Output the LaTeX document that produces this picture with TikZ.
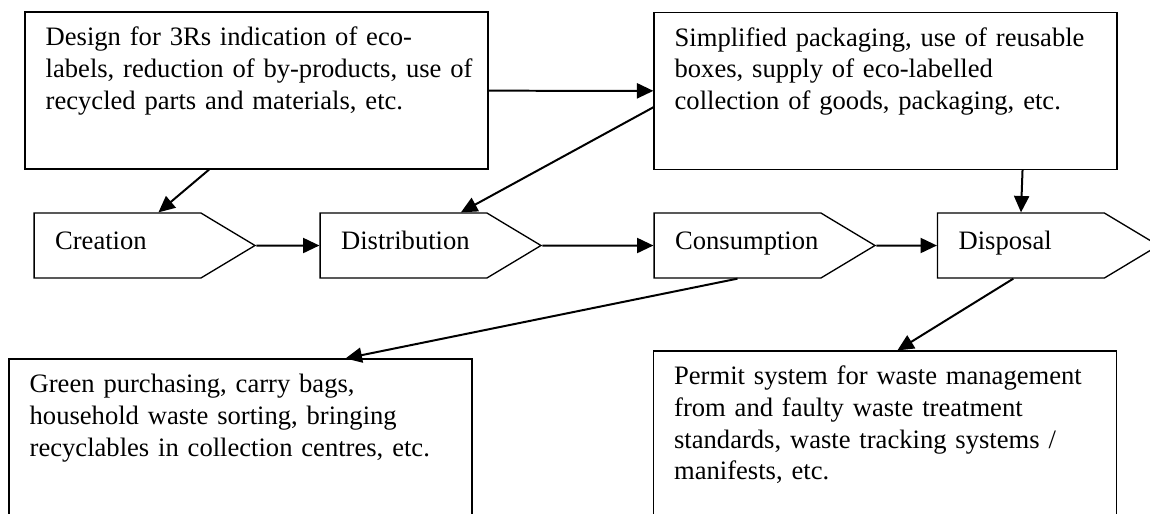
\documentclass[tikz,border=0pt]{standalone}
\usepackage{fontspec}
\setmainfont{Liberation Serif}
\usetikzlibrary{arrows.meta,shapes.symbols}

\begin{document}
\begin{tikzpicture}[-,>={Triangle[length=7.4pt,width=6.8pt]},line width=0.9pt,
                    stage node/.style={signal,signal to=east,signal from=nowhere,signal pointer angle=62,
                      draw,semithick,text width=56.3pt,align=left,inner xsep=9.5pt,inner ysep=8.05pt,
                      text height=8.2pt,text depth=5pt,font=\fontsize{12}{14.3}\selectfont},
                    note node/.style={rectangle,draw,semithick,text width=190.3pt,align=left,
                      inner xsep=9.3pt,inner ysep=7pt,text height=8.2pt,text depth=48.6pt,
                      font=\fontsize{12}{14.3}\selectfont}]
  \useasboundingbox (-1.864,-4.243) rectangle (16.375,3.894);

  %stages%
  \node[stage node] (cre) {Creation};
  \node[stage node] (dis) [right of=cre,node distance=4.536cm] {Distribution};
  \node[stage node] (con) [right of=dis,node distance=5.297cm] {Consumption};
  \node[stage node] (dsp) [right of=con,node distance=4.496cm] {Disposal};
  %boxes%
  \node[note node] (design) [above of=cre,node distance=2.458cm,xshift=2.205cm]
    {Design for 3Rs indication of eco-\\\mbox{labels, reduction of by-products, use of}\\recycled parts and materials, etc.};
  \node[note node] (pack) [above of=con,node distance=2.450cm,xshift=2.347cm]
    {Simplified packaging, use of reusable\\boxes, supply of eco-labelled\\collection of goods, packaging, etc.};
  \node[note node,text depth=56.7pt] (green) [below of=cre,node distance=3.188cm,xshift=1.951cm]
    {Green purchasing, carry bags,\\household waste sorting, bringing\\recyclables in collection centres, etc.};
  \node[note node,text depth=56.7pt] (permit) [below of=con,node distance=3.061cm,xshift=2.339cm]
    {Permit system for waste management\\from and faulty waste treatment\\standards, waste tracking systems /\\manifests, etc.};

  \path[->]
    (cre) edge (dis)
    (dis) edge (con)
    (con) edge (dsp)
    (design) edge (pack)
    (design.239) edge (cre.39)
    (pack.184) edge (dis.30)
    (pack.330) edge (dsp.north)
    (con.south) edge (green.40)
    (dsp.257) edge (permit.82);
\end{tikzpicture}
\end{document}
